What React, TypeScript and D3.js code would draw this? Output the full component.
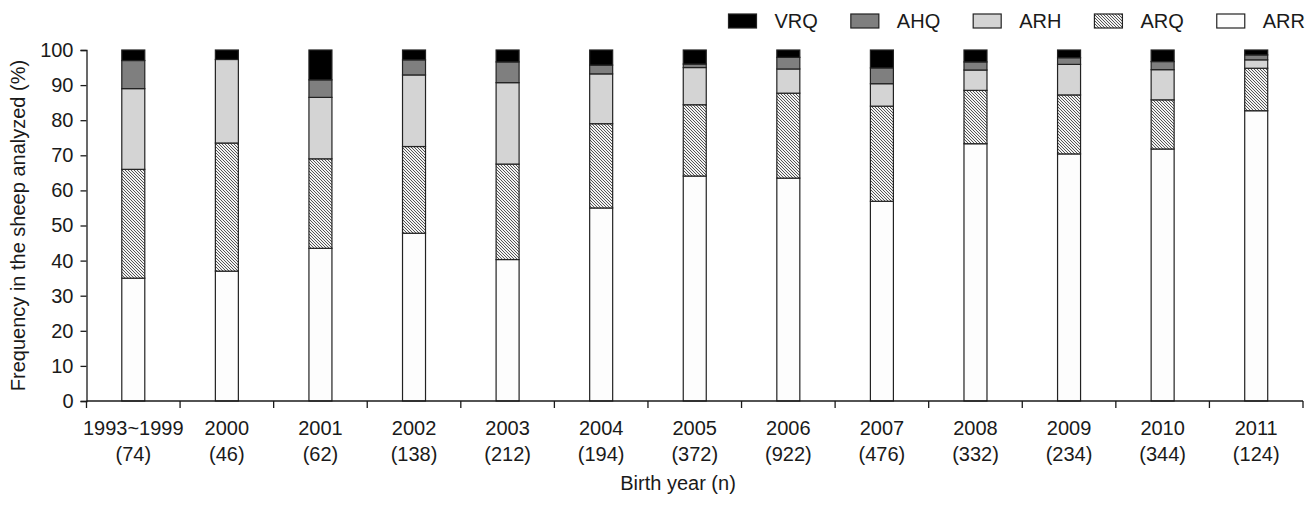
import * as d3 from "d3";
import React from "react";

// birth-year groups and sample sizes
const categories = ["1993~1999", "2000", "2001", "2002", "2003", "2004", "2005", "2006", "2007", "2008", "2009", "2010", "2011"];
const counts = [74, 46, 62, 138, 212, 194, 372, 922, 476, 332, 234, 344, 124];

// genotype frequencies (%)
const ARR = [35, 37, 43.5, 47.8, 40.3, 55, 64.1, 63.5, 56.9, 73.3, 70.4, 71.8, 82.7];
const ARQ = [31, 36.5, 25.5, 24.7, 27.2, 24, 20.3, 24.2, 27.1, 15.2, 16.8, 14.0, 12.1];
const ARH = [23, 23.8, 17.5, 20.4, 23.2, 14.2, 10.6, 6.9, 6.4, 5.8, 8.7, 8.6, 2.4];
const AHQ = [8, 0, 5, 4.3, 5.9, 2.5, 1.0, 3.3, 4.5, 2.3, 1.9, 2.3, 1.4];
const VRQ = [3, 2.7, 8.5, 2.8, 3.4, 4.3, 4.0, 2.1, 5.1, 3.4, 2.2, 3.3, 1.4];

const yTicks = [0, 10, 20, 30, 40, 50, 60, 70, 80, 90, 100];
const keys = ["ARR", "ARQ", "ARH", "AHQ", "VRQ"];
const legendOrder = ["VRQ", "AHQ", "ARH", "ARQ", "ARR"];

const fills = {
  ARR: "#fdfdfd",
  ARQ: "url(#hatch)",
  ARH: "#d4d4d4",
  AHQ: "#7f7f7f",
  VRQ: "#000000",
};

const App = () => {
  const ref = React.useRef(null);

  React.useEffect(() => {
    document.body.style.margin = "0";
    const width = 1315,
      height = 505;
    const svg = d3.select(ref.current);
    svg.selectAll("*").remove();
    svg.attr("width", width).attr("height", height);

    const font = "'Liberation Sans', Arial, sans-serif";
    const ink = "#1a1a1a";

    // fine diagonal hatch for ARQ (pixel pattern)
    const pat = svg
      .append("defs")
      .append("pattern")
      .attr("id", "hatch")
      .attr("patternUnits", "userSpaceOnUse")
      .attr("width", 3)
      .attr("height", 3);
    pat.append("rect").attr("width", 3).attr("height", 3).attr("fill", "#f2f2f2");
    [0, 1, 2].forEach((i) => {
      pat
        .append("rect")
        .attr("x", i)
        .attr("y", i)
        .attr("width", 1)
        .attr("height", 1)
        .attr("fill", "#555");
    });

    const rows = categories.map((c, i) => ({
      cat: c,
      ARR: ARR[i],
      ARQ: ARQ[i],
      ARH: ARH[i],
      AHQ: AHQ[i],
      VRQ: VRQ[i],
    }));

    const x = d3.scaleBand().domain(categories).range([86.5, 1303]).padding(0);
    const y = d3.scaleLinear().domain([0, 100]).range([401, 50]);
    const barW = 23;

    const stacked = d3.stack().keys(keys)(rows);

    const graph = svg.append("g");
    graph
      .selectAll("g.layer")
      .data(stacked)
      .enter()
      .append("g")
      .attr("class", "layer")
      .attr("fill", (d) => fills[d.key])
      .selectAll("rect")
      .data((d) => d.filter((s) => s[1] - s[0] > 0))
      .enter()
      .append("rect")
      .attr("x", (d) => x(d.data.cat) + x.bandwidth() / 2 - barW / 2)
      .attr("width", barW)
      .attr("y", (d) => y(d[1]))
      .attr("height", (d) => y(d[0]) - y(d[1]))
      .attr("stroke", "#222")
      .attr("stroke-width", 1.2);

    // y axis
    const yAxis = graph
      .append("g")
      .attr("transform", "translate(86.5,0)")
      .call(d3.axisLeft(y).tickValues(yTicks).tickSize(6).tickPadding(7));
    yAxis.select(".domain").attr("stroke", ink).attr("stroke-width", 1.3);
    yAxis.selectAll(".tick line").attr("stroke", ink).attr("stroke-width", 1.3);
    yAxis
      .selectAll(".tick text")
      .attr("font-family", font)
      .attr("font-size", 20)
      .attr("fill", ink);

    // x axis: ticks on band boundaries
    const boundaries = categories.map((c) => x(c)).concat([x.range()[1]]);
    graph
      .append("line")
      .attr("x1", 86.5)
      .attr("x2", x.range()[1])
      .attr("y1", y(0))
      .attr("y2", y(0))
      .attr("stroke", ink)
      .attr("stroke-width", 1.3);
    graph
      .selectAll(".xtick")
      .data(boundaries)
      .enter()
      .append("line")
      .attr("x1", (d) => d)
      .attr("x2", (d) => d)
      .attr("y1", y(0))
      .attr("y2", y(0) + 7)
      .attr("stroke", ink)
      .attr("stroke-width", 1.3);

    const xl = graph
      .selectAll(".xlab")
      .data(categories)
      .enter()
      .append("text")
      .attr("font-family", font)
      .attr("font-size", 20)
      .attr("fill", ink)
      .attr("text-anchor", "middle");
    xl.append("tspan")
      .attr("x", (d) => x(d) + x.bandwidth() / 2)
      .attr("y", 435)
      .text((d) => d);
    xl.append("tspan")
      .attr("x", (d) => x(d) + x.bandwidth() / 2)
      .attr("y", 461)
      .text((d, i) => "(" + counts[i] + ")");

    // axis titles
    svg
      .append("text")
      .attr("x", 678)
      .attr("y", 490)
      .attr("text-anchor", "middle")
      .attr("font-family", font)
      .attr("font-size", 20)
      .attr("fill", ink)
      .text("Birth year (n)");

    svg
      .append("text")
      .attr("transform", "translate(25," + y(50) + ") rotate(-90)")
      .attr("text-anchor", "middle")
      .attr("font-family", font)
      .attr("font-size", 20)
      .attr("fill", ink)
      .text("Frequency in the sheep analyzed (%)");

    // legend, laid out right to left
    const legend = svg.append("g");
    let right = 1305;
    legendOrder
      .slice()
      .reverse()
      .forEach((k) => {
        const t = legend
          .append("text")
          .attr("y", 28)
          .attr("font-family", font)
          .attr("font-size", 20)
          .attr("fill", ink)
          .text(k);
        const len = t.node().getComputedTextLength();
        const tx = right - len;
        t.attr("x", tx);
        legend
          .append("rect")
          .attr("x", tx - 46)
          .attr("y", 14)
          .attr("width", 28)
          .attr("height", 14)
          .attr("fill", fills[k])
          .attr("stroke", "#222")
          .attr("stroke-width", 1.2);
        right = tx - 46 - 33;
      });
  }, []);

  return <svg ref={ref} />;
};

export default App;
